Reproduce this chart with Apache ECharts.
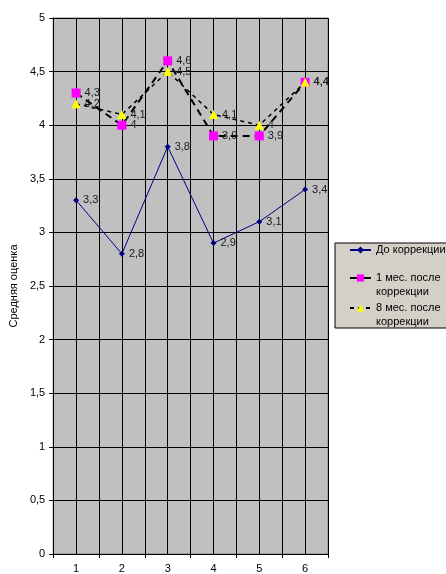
<!DOCTYPE html>
<html>
<head>
<meta charset="utf-8">
<script src="https://cdn.jsdelivr.net/npm/echarts@6/dist/echarts.min.js"></script>
<style>html,body{margin:0;padding:0;background:#fff;}#c{width:446px;height:574px;}</style>
</head>
<body>
<div id="c"></div>
<script>
const categories = ['1', '2', '3', '4', '5', '6'];
const seriesNames = ['До коррекции', '1 мес. после\nкоррекции', '8 мес. после\nкоррекции'];
const beforeValues = [3.3, 2.8, 3.8, 2.9, 3.1, 3.4];
const month1Values = [4.3, 4.0, 4.6, 3.9, 3.9, 4.4];
const month8Values = [4.2, 4.1, 4.5, 4.1, 4.0, 4.4];
const yTicks = { min: 0, max: 5, step: 0.5 };

const FONT = 'Liberation Sans, Arial, sans-serif';
const fmt = v => String(v).replace('.', ',');

const chart = echarts.init(document.getElementById('c'), null, { renderer: 'canvas' });

const labelCfg = {
  show: true, position: 'right', distance: 4,
  fontFamily: FONT, fontSize: 11, color: '#1a1a1a',
  formatter: p => fmt(p.value)
};

const legendText = { fontFamily: FONT, fontSize: 11, color: '#000', lineHeight: 14 };
const legendBase = {
  orient: 'vertical', selectedMode: false,
  itemWidth: 21, itemHeight: 9, itemGap: 0, textStyle: legendText
};

chart.setOption({
  animation: false,
  grid: {
    left: 53, right: 118, top: 18, bottom: 20,
    show: true, backgroundColor: '#C0C0C0', borderColor: '#808080', borderWidth: 1
  },
  legend: [
    Object.assign({}, legendBase, {
      left: 335, top: 243,
      padding: [0, 30, 71, 14],
      backgroundColor: '#D4D0C8', borderColor: '#000', borderWidth: 1,
      data: [{ name: seriesNames[0] }]
    }),
    Object.assign({}, legendBase, {
      left: 349, top: 257, padding: 0,
      formatter: n => '\n' + n,
      data: [{ name: seriesNames[1], lineStyle: { type: 'solid' } }]
    }),
    Object.assign({}, legendBase, {
      left: 349, top: 287, padding: 0,
      formatter: n => '\n' + n,
      data: [{ name: seriesNames[2] }]
    })
  ],
  xAxis: [
    {
      type: 'category', data: categories, boundaryGap: true,
      axisLine: { show: true, lineStyle: { color: '#000', width: 1 } },
      axisTick: { show: true, length: 4, lineStyle: { color: '#000' } },
      axisLabel: { fontFamily: FONT, fontSize: 11, color: '#000', margin: 9 },
      splitLine: { show: true, lineStyle: { color: '#202020', width: 1 } }
    },
    {
      type: 'value', min: 0.5, max: 6.5, interval: 0.5, position: 'bottom',
      axisLine: { show: false }, axisTick: { show: false }, axisLabel: { show: false },
      splitLine: { show: true, lineStyle: { color: '#000', width: 1 } }
    }
  ],
  yAxis: {
    type: 'value', min: yTicks.min, max: yTicks.max, interval: yTicks.step,
    name: 'Средняя оценка', nameLocation: 'middle', nameGap: 24,
    nameTextStyle: { fontFamily: FONT, fontSize: 11, color: '#000' },
    axisLine: { show: true, lineStyle: { color: '#000', width: 1 } },
    axisTick: { show: true, length: 4, lineStyle: { color: '#000' } },
    axisLabel: { fontFamily: FONT, fontSize: 11, color: '#000', margin: 8, formatter: v => fmt(v) },
    splitLine: { show: true, lineStyle: { color: '#000', width: 1 } }
  },
  series: [
    {
      name: seriesNames[0], type: 'line', data: beforeValues, xAxisIndex: 0,
      symbol: 'diamond', symbolSize: 6,
      lineStyle: { color: '#000080', width: 1 },
      itemStyle: { color: '#000080' },
      label: labelCfg, z: 3
    },
    {
      name: seriesNames[1], type: 'line', data: month1Values, xAxisIndex: 0,
      symbol: 'rect', symbolSize: 9,
      lineStyle: { color: '#000', width: 2, type: [7, 5] },
      itemStyle: { color: '#FF00FF' },
      label: labelCfg, z: 4
    },
    {
      name: seriesNames[2], type: 'line', data: month8Values, xAxisIndex: 0,
      symbol: 'triangle', symbolSize: 9,
      lineStyle: { color: '#000', width: 1.5, type: [4, 4] },
      itemStyle: { color: '#FFFF00' },
      label: labelCfg, z: 5
    }
  ]
});
</script>
</body>
</html>
